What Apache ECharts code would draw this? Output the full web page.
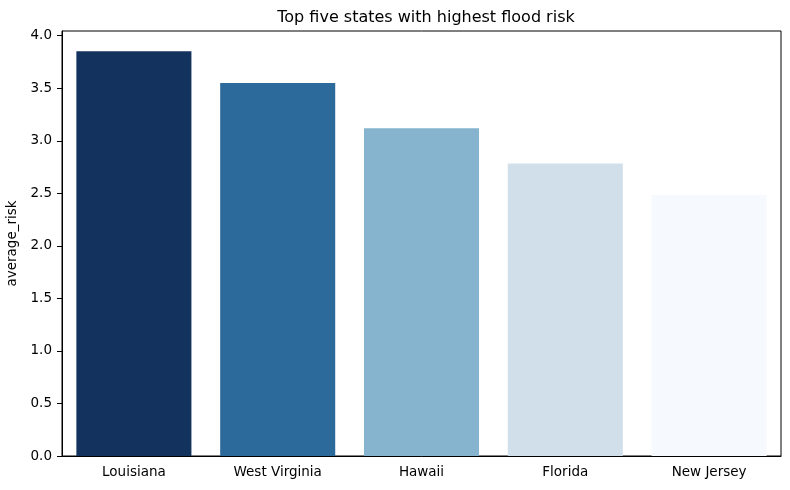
<!DOCTYPE html>
<html>
<head>
<meta charset="utf-8">
<script src="https://cdn.jsdelivr.net/npm/echarts@6/dist/echarts.min.js"></script>
<style>
  html, body { margin: 0; padding: 0; background: #fff; }
  #chart { width: 790px; height: 490px; }
</style>
</head>
<body>
<div id="chart"></div>
<script>
// data
const states = ['Louisiana', 'West Virginia', 'Hawaii', 'Florida', 'New Jersey'];
const averageRisk = [3.853, 3.549, 3.12, 2.785, 2.483];
const barColors = ['#14325e', '#2d6a9c', '#86b3cd', '#d1dfeb', '#f6f9fd'];

const font = 'DejaVu Sans';
const chart = echarts.init(document.getElementById('chart'));

chart.setOption({
  animation: false,
  title: {
    text: 'Top five states with highest flood risk',
    left: 421, top: 5, textAlign: 'center',
    textStyle: { fontFamily: font, fontSize: 16, fontWeight: 'normal', color: '#000' }
  },
  grid: {
    left: 62, right: 9, top: 31, bottom: 34,
    outerBoundsMode: 'none', containLabel: false,
    show: true, borderColor: '#000', borderWidth: 1, backgroundColor: 'transparent'
  },
  xAxis: {
    type: 'category',
    data: states,
    axisLine: { lineStyle: { color: '#000', width: 1 } },
    axisTick: { alignWithLabel: true, length: 5, lineStyle: { color: '#000' } },
    axisLabel: { fontFamily: font, fontSize: 13.5, color: '#000', margin: 9 }
  },
  yAxis: {
    type: 'value',
    min: 0, max: 4.045, interval: 0.5,
    name: 'average_risk', nameLocation: 'middle', nameGap: 33,
    nameTextStyle: { fontFamily: font, fontSize: 13.5, color: '#000' },
    axisLine: { show: true, lineStyle: { color: '#000', width: 1 } },
    axisTick: { show: true, length: 5, lineStyle: { color: '#000' } },
    axisLabel: {
      fontFamily: font, fontSize: 13.5, color: '#000', margin: 10,
      showMaxLabel: false,
      formatter: v => v.toFixed(1)
    },
    splitLine: { show: false }
  },
  series: [{
    type: 'bar',
    barWidth: '80%',
    data: averageRisk.map((v, i) => ({ value: v, itemStyle: { color: barColors[i] } }))
  }]
});
</script>
</body>
</html>
